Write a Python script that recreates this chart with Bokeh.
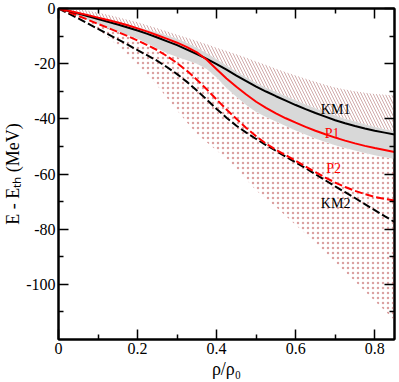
import numpy as np
from bokeh.plotting import figure
from bokeh.models import LinearAxis, FixedTicker, ColumnDataSource, Range1d
from bokeh.core.properties import value
from bokeh.embed import file_html
from bokeh.resources import INLINE

# ---- data ----
rho = [0, 0.025, 0.05, 0.075, 0.1, 0.125, 0.15, 0.175, 0.2, 0.225, 0.25, 0.275,
       0.3, 0.325, 0.35, 0.375, 0.4, 0.425, 0.45, 0.475, 0.5, 0.525, 0.55, 0.575,
       0.6, 0.625, 0.65, 0.675, 0.7, 0.725, 0.75, 0.775, 0.8, 0.825, 0.85]
km1 = [0, -0.9, -1.8, -2.8, -3.8, -4.8, -5.8, -6.9, -8.0, -9.2, -10.5, -11.9,
       -13.3, -14.9, -16.5, -18.3, -20.2, -22.2, -24.3, -26.3, -28.3, -30.1, -31.8, -33.4,
       -35.0, -36.5, -37.9, -39.2, -40.5, -41.6, -42.6, -43.5, -44.3, -45.0, -45.7]
p1 = [0, -0.8, -1.6, -2.4, -3.3, -4.2, -5.1, -6.1, -7.2, -8.4, -9.7, -11.0,
      -12.4, -14.0, -15.9, -18.6, -22.0, -25.4, -28.4, -31.2, -33.8, -36.0, -38.0, -39.8,
      -41.4, -42.9, -44.3, -45.6, -46.8, -47.9, -48.9, -49.8, -50.6, -51.3, -52.0]
p2 = [0, -1.3, -2.7, -4.1, -5.6, -7.0, -8.5, -10.0, -11.6, -13.3, -15.1, -17.3,
      -19.8, -22.6, -25.8, -29.3, -33.0, -36.6, -40.0, -43.3, -46.3, -49.0, -51.2, -53.2,
      -55.2, -57.3, -59.3, -61.3, -63.1, -64.7, -66.1, -67.3, -68.3, -69.0, -69.6]
km2 = [0, -1.8, -3.6, -5.5, -7.4, -9.3, -11.2, -13.1, -15.1, -17.0, -19.0, -21.3,
       -23.8, -26.6, -29.7, -33.0, -36.4, -39.6, -42.5, -45.0, -47.3, -49.5, -51.6, -53.7,
       -55.8, -57.9, -60.1, -62.3, -64.5, -66.6, -68.7, -70.9, -73.1, -75.3, -77.4]
band_hi = [0, -0.7, -1.5, -2.3, -3.2, -4.1, -5.0, -5.9, -6.8, -7.7, -8.7, -9.8,
           -11.0, -12.5, -14.2, -16.2, -18.4, -20.7, -22.9, -25.0, -27.0, -28.7, -30.3, -31.8,
           -33.3, -34.8, -36.2, -37.5, -38.8, -40.0, -41.0, -42.0, -43.0, -43.8, -44.5]
band_lo = [0, -1.4, -2.8, -4.2, -5.6, -6.9, -8.3, -9.6, -11.0, -12.7, -14.5, -16.2,
           -17.6, -18.8, -20.0, -21.9, -25.0, -28.8, -32.0, -35.0, -37.5, -39.3, -41.0, -42.6,
           -44.2, -45.7, -47.1, -48.4, -49.6, -50.6, -51.5, -52.4, -53.2, -53.9, -54.5]
hatch_hi = [0, 0, -0.3, -0.8, -1.5, -2.3, -3.2, -4.1, -5.0, -6.1, -7.2, -8.3,
            -9.5, -10.6, -11.8, -13.0, -14.2, -15.4, -16.6, -17.9, -19.2, -20.5, -21.8, -23.1,
            -24.3, -25.5, -26.6, -27.6, -28.6, -29.4, -30.0, -30.5, -31.0, -31.3, -31.5]
dots_lo = [0, -0.8, -2.5, -4.8, -7.5, -10.4, -13.5, -16.9, -20.5, -24.2, -28.0, -32.5,
           -37.0, -41.3, -45.5, -48.5, -51.5, -54.5, -58.0, -62.0, -66.0, -69.0, -72.0, -75.2,
           -78.5, -81.7, -85.0, -88.5, -92.0, -95.5, -99.0, -102.5, -106.0, -109.5, -113.0]

x_ticks = [0, 0.2, 0.4, 0.6, 0.8]
x_tick_labels = ["0", "0.2", "0.4", "0.6", "0.8"]
x_minor = [0.1, 0.3, 0.5, 0.7]
y_ticks = [0, -20, -40, -60, -80, -100]
y_tick_labels = ["0", "-20", "-40", "-60", "-80", "-100"]
y_minor = [-10, -30, -50, -70, -90, -110]

x_title = "ρ/ρ₀"
y_title = "E - Eₜₕ (MeV)"

curve_names = ["KM1", "P1", "P2", "KM2"]
name_x = [0.701, 0.692, 0.696, 0.701]
name_y = [-36.6, -45.2, -58.1, -70.7]
name_colors = ["black", "red", "red", "black"]

FONT = "Liberation Serif"

src = ColumnDataSource(dict(x=rho, km1=km1, p1=p1, p2=p2, km2=km2,
                            bhi=band_hi, blo=band_lo, hhi=hatch_hi, dlo=dots_lo))

p = figure(frame_width=336, frame_height=331,
           x_range=Range1d(0, 0.85), y_range=Range1d(-120, 0),
           output_backend="svg", toolbar_location=None,
           min_border_left=58, min_border_right=3, min_border_top=8,
           min_border_bottom=40)
p.grid.visible = False
p.outline_line_color = "black"
p.outline_line_width = 2
p.background_fill_color = "white"
p.border_fill_color = "white"

# dotted region
p.varea(x="x", y1="dlo", y2="blo", source=src, fill_color=None, fill_alpha=0,
        hatch_pattern="dot", hatch_color="#cc7777", hatch_scale=5,
        hatch_weight=0.6, hatch_alpha=0.7)
# hatched region
p.varea(x="x", y1="bhi", y2="hhi", source=src, fill_color=None, fill_alpha=0,
        hatch_pattern="\\", hatch_color="#b07070", hatch_scale=6,
        hatch_weight=0.8, hatch_alpha=0.75)
# grey band
p.varea(x="x", y1="blo", y2="bhi", source=src, fill_color="#d8d8d8")

p.line("x", "km2", source=src, line_color="black", line_width=2, line_dash="8 3")
p.line("x", "p2", source=src, line_color="red", line_width=2, line_dash="8 3")
p.line("x", "km1", source=src, line_color="black", line_width=2)
p.line("x", "p1", source=src, line_color="red", line_width=2)

p.text(x=name_x, y=name_y, text=curve_names, text_color=name_colors,
       text_font=value(FONT), text_font_size="14px",
       text_align="center", text_baseline="middle")


def style_axis(ax, xt, xl, xm, show):
    ax.ticker = FixedTicker(ticks=xt, minor_ticks=xm)
    ax.major_label_overrides = {t: l for t, l in zip(xt, xl)}
    ax.major_tick_in = 10
    ax.major_tick_out = 0
    ax.minor_tick_in = 5
    ax.minor_tick_out = 0
    ax.axis_line_width = 2
    ax.axis_line_color = "black"
    ax.major_tick_line_width = 1.5
    ax.minor_tick_line_width = 1.5
    ax.major_tick_line_color = "black"
    ax.minor_tick_line_color = "black"
    ax.major_label_text_font = FONT
    ax.major_label_text_font_style = "normal"
    ax.axis_label_text_font = FONT
    ax.axis_label_text_font_size = "18px"
    ax.axis_label_text_font_style = "normal"
    ax.axis_label_text_color = "black"
    if show:
        ax.major_label_text_font_size = "16px"
        ax.major_label_text_color = "black"
    else:
        ax.major_label_text_font_size = "0px"
        ax.major_label_text_color = None
        ax.major_label_standoff = 0


style_axis(p.xaxis[0], x_ticks, x_tick_labels, x_minor, True)
p.xaxis[0].major_label_standoff = 3
p.xaxis[0].axis_label = x_title
p.xaxis[0].axis_label_standoff = 2
style_axis(p.yaxis[0], y_ticks, y_tick_labels, y_minor, True)
p.yaxis[0].major_label_standoff = 3
p.yaxis[0].axis_label = y_title
p.yaxis[0].axis_label_standoff = 0

top = LinearAxis()
style_axis(top, x_ticks, x_tick_labels, x_minor, False)
p.add_layout(top, "above")
right = LinearAxis()
style_axis(right, y_ticks, y_tick_labels, y_minor, False)
p.add_layout(right, "right")

open("out.html", "w").write(file_html(p, INLINE))
